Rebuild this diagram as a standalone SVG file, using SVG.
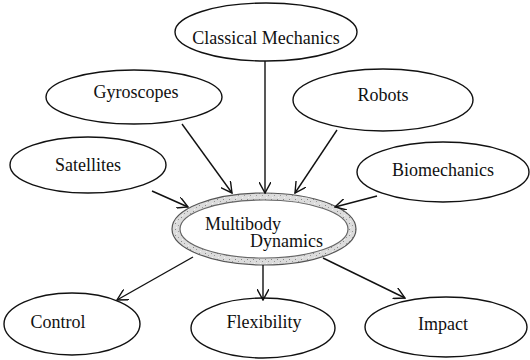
<svg xmlns="http://www.w3.org/2000/svg" width="530" height="360" viewBox="0 0 530 360">
<defs>
<style>
.node ellipse{fill:#fff;stroke:#111;stroke-width:1.4}
text{font-family:"Liberation Serif","Times New Roman",serif;font-size:18px;fill:#111}
.c{text-anchor:middle}
.conn line{stroke:#111;stroke-width:1.4;marker-end:url(#arr)}
</style>
<marker id="arr" viewBox="0 0 12 12" refX="11" refY="6" markerWidth="12" markerHeight="12" markerUnits="userSpaceOnUse" orient="auto">
<path d="M0,0 L11,6 L0,12" fill="none" stroke="#111" stroke-width="1.4"/>
</marker>
<pattern id="speck" width="6" height="6" patternUnits="userSpaceOnUse">
<rect width="6" height="6" fill="#dcdcdc"/>
<rect x="1" y="1" width="1" height="1" fill="#888"/>
<rect x="4" y="3" width="1" height="1" fill="#999"/>
<rect x="2" y="5" width="1" height="1" fill="#f4f4f4"/>
</pattern>
</defs>
<g id="classical" class="node"><ellipse cx="266" cy="32" rx="91" ry="29"/><text class="c" x="266" y="44">Classical Mechanics</text></g>
<g id="gyroscopes" class="node"><ellipse cx="134" cy="97" rx="88" ry="27"/><text class="c" x="136" y="98">Gyroscopes</text></g>
<g id="robots" class="node"><ellipse cx="383" cy="100" rx="90" ry="31"/><text class="c" x="383" y="101">Robots</text></g>
<g id="satellites" class="node"><ellipse cx="88" cy="165" rx="78" ry="28"/><text class="c" x="88" y="171">Satellites</text></g>
<g id="biomechanics" class="node"><ellipse cx="443" cy="172" rx="86" ry="30"/><text class="c" x="443" y="176">Biomechanics</text></g>
<g id="multibody">
<ellipse cx="264" cy="229" rx="92" ry="36" fill="url(#speck)" stroke="#555" stroke-width="1.2"/>
<ellipse cx="264" cy="229" rx="84" ry="29" fill="#fff" stroke="#666" stroke-width="1.2"/>
<text x="205" y="230">Multibody</text>
<text x="250" y="247">Dynamics</text>
</g>
<g id="control" class="node"><ellipse cx="72" cy="324" rx="68" ry="31"/><text class="c" x="58" y="328">Control</text></g>
<g id="flexibility" class="node"><ellipse cx="263" cy="328" rx="72" ry="30"/><text class="c" x="264" y="328">Flexibility</text></g>
<g id="impact" class="node"><ellipse cx="446" cy="327" rx="81" ry="30"/><text class="c" x="443" y="330">Impact</text></g>
<g id="connectors" class="conn">
<line x1="265" y1="61" x2="265" y2="193"/>
<line x1="182" y1="124" x2="232" y2="193"/>
<line x1="337" y1="130" x2="295" y2="193"/>
<line x1="152" y1="191" x2="188" y2="207"/>
<line x1="377" y1="196" x2="335" y2="207"/>
<line x1="193" y1="257" x2="117" y2="300"/>
<line x1="263" y1="265" x2="263" y2="300"/>
<line x1="323" y1="258" x2="405" y2="298"/>
</g>
</svg>
